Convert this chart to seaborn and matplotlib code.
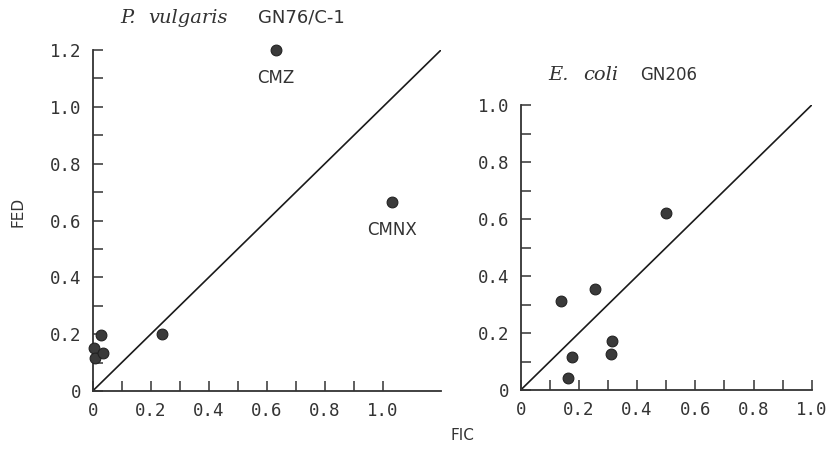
import numpy as np
import pandas as pd
import matplotlib
matplotlib.use("Agg")
import matplotlib.pyplot as plt
import seaborn as sns

# P. vulgaris GN76/C-1
pv_fic = [0.005, 0.007, 0.035, 0.03, 0.24, 0.63, 1.03]
pv_fed = [0.15, 0.115, 0.135, 0.196, 0.2, 1.2, 0.665]
pv_labels = ["", "", "", "", "", "CMZ", "CMNX"]

# E. coli GN206
ec_fic = [0.138, 0.255, 0.313, 0.31, 0.177, 0.164, 0.5]
ec_fed = [0.312, 0.354, 0.173, 0.125, 0.117, 0.041, 0.62]

y_left_ticks = [0, 0.2, 0.4, 0.6, 0.8, 1.0, 1.2]
y_right_ticks = [0, 0.2, 0.4, 0.6, 0.8, 1.0]
x_ticks = [0, 0.2, 0.4, 0.6, 0.8, 1.0]

INK = "#333333"

sns.set_style("ticks")
plt.rcParams["font.family"] = ["DejaVu Sans Mono"]
plt.rcParams["font.size"] = 12.5

fig = plt.figure(figsize=(8.26, 4.5), dpi=100)
ax1 = fig.add_axes([0.1122, 0.1311, 0.4217, 0.7578])
ax2 = fig.add_axes([0.6304, 0.1333, 0.3523, 0.6333])

pv = pd.DataFrame({"FIC": pv_fic, "FED": pv_fed, "label": pv_labels})
ec = pd.DataFrame({"FIC": ec_fic, "FED": ec_fed})


def fmt(v):
    return "0" if v == 0 else f"{v:.1f}"


def style_axes(ax, xmax, ymax, yticks):
    ax.set_xlim(0, xmax)
    ax.set_ylim(0, ymax)
    ax.plot([0, ymax], [0, ymax], color="#1a1a1a", lw=1.2, zorder=1)
    ax.set_xticks(x_ticks)
    ax.set_xticklabels([fmt(v) for v in x_ticks])
    ax.set_xticks(np.arange(1, 10) / 10, minor=True)
    ax.set_yticks(yticks)
    ax.set_yticklabels([fmt(v) for v in yticks])
    ax.set_yticks(np.arange(1, int(round(ymax * 10))) / 10, minor=True)
    ax.tick_params(which="both", direction="in", length=7, width=1.1,
                   color=INK, labelcolor=INK)
    ax.tick_params(axis="x", pad=8)
    ax.tick_params(axis="y", pad=8)
    sns.despine(ax=ax)
    for s in ["left", "bottom"]:
        ax.spines[s].set_linewidth(1.3)
        ax.spines[s].set_color(INK)
    ax.set_xlabel("")
    ax.set_ylabel("")


sns.scatterplot(data=pv, x="FIC", y="FED", ax=ax1, s=60, color="#3a3a3a",
                edgecolor="#222222", linewidth=0.8, clip_on=False, zorder=3)
style_axes(ax1, 1.2, 1.2, y_left_ticks)
for _, r in pv.iterrows():
    if r["label"]:
        ax1.annotate(r["label"], (r["FIC"], r["FED"]), xytext=(0, -20),
                     textcoords="offset points", ha="center", va="center",
                     fontsize=12, fontfamily="DejaVu Sans", color=INK)

sns.scatterplot(data=ec, x="FIC", y="FED", ax=ax2, s=60, color="#3a3a3a",
                edgecolor="#222222", linewidth=0.8, clip_on=False, zorder=3)
style_axes(ax2, 1.0, 1.0, y_right_ticks)

# titles: italic species name + strain, placed piece by piece
italic = dict(fontsize=14, style="italic", fontfamily="DejaVu Serif",
              va="center", ha="left", color=INK)
plain = dict(fontfamily="DejaVu Sans", va="center", ha="left", color=INK)
fig.text(120 / 826, 1 - 18 / 450, "P.", **italic)
fig.text(148 / 826, 1 - 18 / 450, "vulgaris", **italic)
fig.text(258 / 826, 1 - 18 / 450, "GN76/C-1", fontsize=13, **plain)
fig.text(548 / 826, 1 - 75 / 450, "E.", **italic)
fig.text(583 / 826, 1 - 75 / 450, "coli", **italic)
fig.text(640 / 826, 1 - 75 / 450, "GN206", fontsize=12, **plain)

fig.text(18 / 826, 1 - 212 / 450, "FED", rotation=90, fontsize=11,
         fontfamily="DejaVu Sans", va="center", ha="center", color=INK)
fig.text(462 / 826, 1 - 435 / 450, "FIC", fontsize=11,
         fontfamily="DejaVu Sans", va="center", ha="center", color=INK)

fig.savefig("out.png", dpi=100)
